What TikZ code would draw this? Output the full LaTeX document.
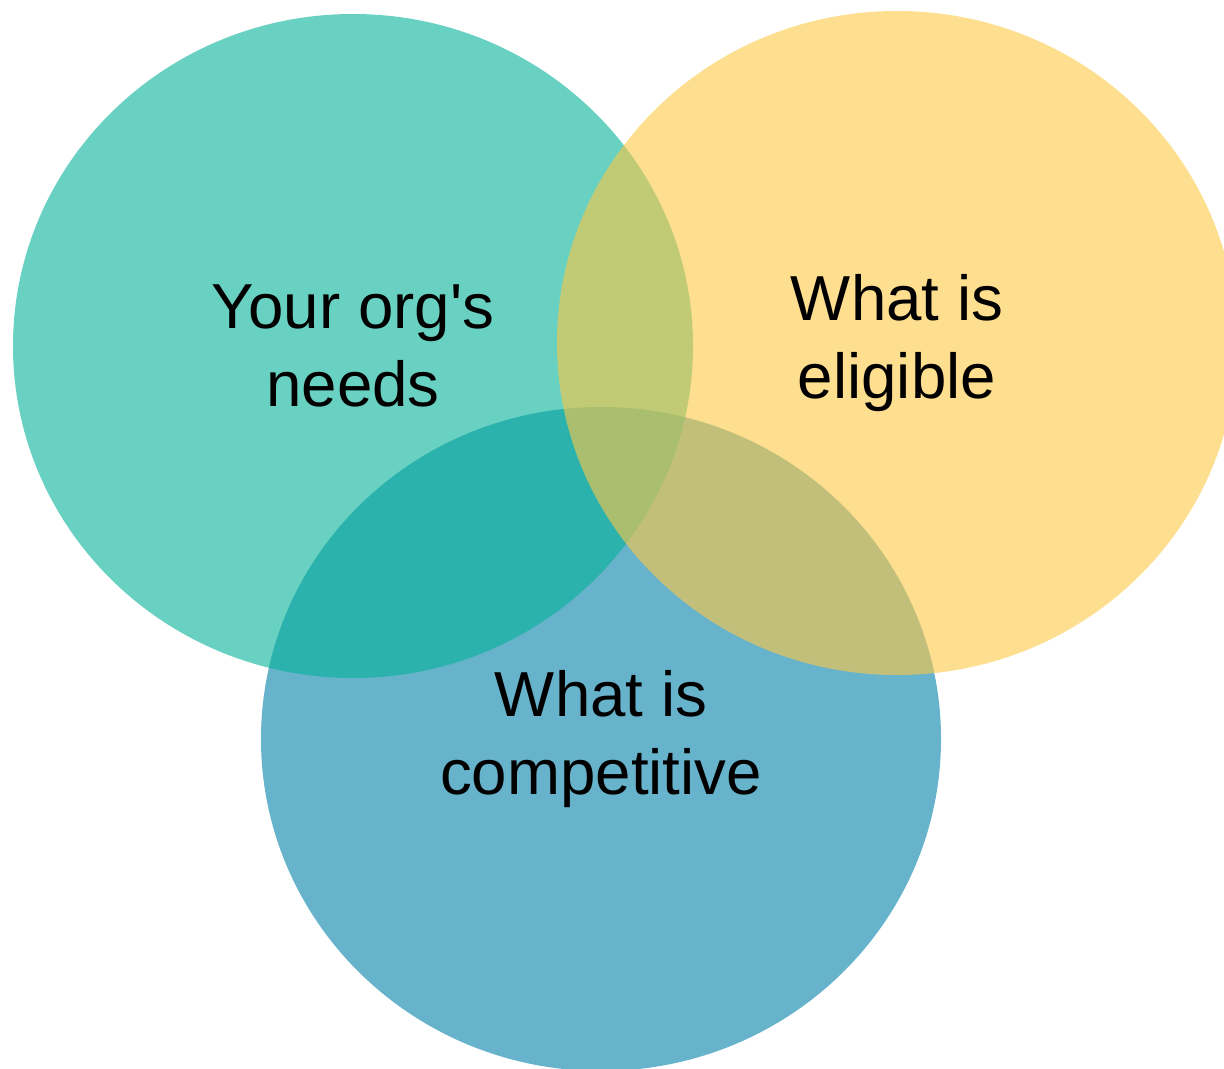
\documentclass[tikz,border=0pt]{standalone}
\usepackage{fontspec}
\setmainfont{Liberation Sans}
\usetikzlibrary{shapes.geometric}
\definecolor{needs}{RGB}{3,178,152}
\definecolor{elig}{RGB}{253,200,68}
\definecolor{compet}{RGB}{3,128,170}

\begin{document}
\begin{tikzpicture}[% styles for all three sets
			every node/.style={
				align=center,  		% so that "\\" breaks the line
				font=\fontsize{18.1}{22.4}\selectfont
			},
			set/.style={ellipse,minimum width=6.8cm,minimum height=6.64cm,inner sep=0pt,
				fill opacity=0.6,text opacity=1}
		]
		\useasboundingbox (0,0) rectangle (12.24,-10.68);
		\node[set,fill=compet](C3) at (6.01,-7.39) {What is \\ competitive};
		\node[set,fill=needs](C1) at (3.53,-3.46) {Your org\textquotesingle s \\ needs};
		\node[set,fill=elig](C2) at (8.97,-3.43) {What is \\ eligible};
	\end{tikzpicture}
\end{document}
